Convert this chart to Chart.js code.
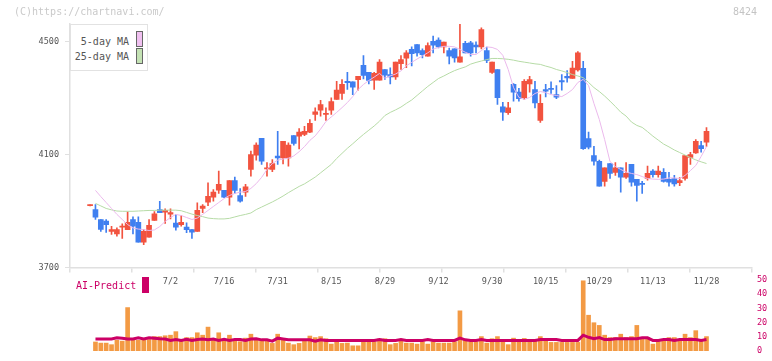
<!DOCTYPE html>
<html>
<head>
<meta charset="utf-8">
<script src="https://cdn.jsdelivr.net/npm/chart.js@4.4.1/dist/chart.umd.min.js"></script>
<style>
  html, body { margin: 0; padding: 0; background: #fff; }
  #wrap { position: relative; width: 772px; height: 361px; overflow: hidden; font-family: "DejaVu Sans Mono", monospace; }
  canvas { position: absolute; left: 0; }
  #main { top: 0; }
  #sub { top: 270px; }
  .txt { position: absolute; white-space: pre; font-size: 10px; line-height: 12px; }
  .box { position: absolute; box-sizing: border-box; }
</style>
</head>
<body>
<div id="wrap">
  <canvas id="sub" width="772" height="91"></canvas>
  <canvas id="main" width="772" height="300"></canvas>
  <div class="txt" style="left:14px;top:6px;color:#cacaca">(C)https://chartnavi.com/</div>
  <div class="txt" style="right:15px;top:6px;color:#c4c4c4">8424</div>
  <div class="box" style="left:70px;top:24px;width:78px;height:47px;border:1px solid #e2e2e2;background:#fff"></div>
  <div class="txt" style="right:643px;top:36px;color:#555">5-day MA</div>
  <div class="box" style="left:136px;top:31px;width:7px;height:16px;border:1px solid #666;background:#f0c0f0"></div>
  <div class="txt" style="right:643px;top:51px;color:#555">25-day MA</div>
  <div class="box" style="left:136px;top:48px;width:7px;height:16px;border:1px solid #666;background:#c4e2b4"></div>
  <div class="txt" style="left:76px;top:280px;color:#cc0066">AI-Predict</div>
  <div class="box" style="left:142px;top:277px;width:7px;height:16px;background:#cc0066"></div>
</div>
<script>
'use strict'

const dates = [
  '6/11', '6/12', '6/13', '6/16', '6/17', '6/18', '6/19', '6/20', '6/23', '6/24',
  '6/25', '6/26', '6/27', '6/30', '7/1', '7/2', '7/3', '7/4', '7/7', '7/8',
  '7/9', '7/10', '7/11', '7/14', '7/15', '7/16', '7/17', '7/18', '7/22', '7/23',
  '7/24', '7/25', '7/28', '7/29', '7/30', '7/31', '8/1', '8/4', '8/5', '8/6',
  '8/7', '8/8', '8/12', '8/13', '8/14', '8/15', '8/18', '8/19', '8/20', '8/21',
  '8/22', '8/25', '8/26', '8/27', '8/28', '8/29', '9/1', '9/2', '9/3', '9/4',
  '9/5', '9/8', '9/9', '9/10', '9/11', '9/12', '9/16', '9/17', '9/18', '9/19',
  '9/22', '9/24', '9/25', '9/26', '9/29', '9/30', '10/1', '10/2', '10/3', '10/6',
  '10/7', '10/8', '10/9', '10/10', '10/14', '10/15', '10/16', '10/17', '10/20', '10/21',
  '10/22', '10/23', '10/24', '10/27', '10/28', '10/29', '10/30', '10/31', '11/4', '11/5',
  '11/6', '11/7', '11/10', '11/11', '11/12', '11/13', '11/14', '11/17', '11/18', '11/19',
  '11/20', '11/21', '11/25', '11/26', '11/27', '11/28',
]

const shownDates = ['7/2', '7/16', '7/31', '8/15', '8/29', '9/12', '9/30', '10/15', '10/29', '11/13', '11/28']

const opens = [
  3919, 3905, 3870, 3864, 3828, 3819, 3843, 3834, 3870, 3860,
  3790, 3807, 3867, 3905, 3896, 3889, 3857, 3852, 3843, 3834,
  3828, 3909, 3931, 3949, 3974, 3973, 3949, 4008, 3955, 3967,
  4047, 4098, 4157, 4049, 4047, 4094, 4088, 4088, 4167, 4165,
  4171, 4179, 4242, 4257, 4242, 4257, 4295, 4316, 4359, 4357,
  4365, 4416, 4391, 4363, 4363, 4401, 4383, 4375, 4422, 4441,
  4472, 4489, 4468, 4448, 4501, 4505, 4481, 4468, 4474, 4427,
  4494, 4495, 4487, 4481, 4468, 4391, 4401, 4269, 4248, 4348,
  4321, 4301, 4350, 4330, 4221, 4330, 4334, 4312, 4362, 4377,
  4369, 4399, 4405, 4156, 4096, 4076, 4005, 4068, 4037, 4053,
  4020, 4065, 4012, 3997, 4015, 4041, 4029, 4037, 4012, 4015,
  4000, 4015, 4090, 4106, 4132, 4144,
]
const highs = [
  3921, 3923, 3870, 3870, 3846, 3840, 3855, 3897, 3879, 3879,
  3834, 3870, 3898, 3934, 3908, 3908, 3888, 3884, 3858, 3834,
  3929, 3923, 4000, 3976, 4041, 3973, 4008, 4020, 3979, 3994,
  4112, 4141, 4157, 4071, 4082, 4182, 4147, 4141, 4167, 4192,
  4200, 4224, 4265, 4292, 4265, 4301, 4359, 4365, 4391, 4357,
  4377, 4450, 4391, 4391, 4436, 4401, 4407, 4427, 4450, 4468,
  4481, 4489, 4474, 4495, 4519, 4513, 4498, 4477, 4474, 4562,
  4501, 4501, 4499, 4548, 4480, 4427, 4401, 4285, 4285, 4351,
  4334, 4365, 4377, 4359, 4312, 4348, 4357, 4344, 4383, 4397,
  4430, 4464, 4430, 4179, 4129, 4080, 4053, 4068, 4071, 4053,
  4071, 4065, 4012, 4005, 4059, 4047, 4059, 4050, 4037, 4026,
  4018, 4096, 4108, 4153, 4147, 4195,
]
const lows = [
  3918, 3870, 3828, 3824, 3817, 3811, 3803, 3834, 3819, 3790,
  3781, 3807, 3867, 3894, 3856, 3872, 3832, 3846, 3823, 3803,
  3828, 3894, 3919, 3935, 3962, 3947, 3921, 3962, 3931, 3952,
  4023, 4080, 4065, 4023, 4039, 4065, 4067, 4059, 4133, 4120,
  4167, 4177, 4221, 4236, 4221, 4242, 4295, 4295, 4330, 4312,
  4328, 4368, 4350, 4330, 4363, 4366, 4350, 4366, 4401, 4407,
  4414, 4448, 4442, 4448, 4460, 4477, 4460, 4421, 4427, 4427,
  4460, 4448, 4460, 4474, 4425, 4387, 4277, 4221, 4242, 4289,
  4289, 4295, 4321, 4265, 4214, 4304, 4316, 4298, 4328, 4356,
  4369, 4395, 4118, 4120, 4062, 3988, 3988, 4015, 4026, 3967,
  4015, 3988, 3935, 3962, 4009, 4020, 4020, 4002, 3988, 3988,
  3990, 4009, 4065, 4104, 4108, 4129,
]
const closes = [
  3920, 3878, 3835, 3852, 3834, 3834, 3846, 3860, 3846, 3790,
  3828, 3849, 3890, 3894, 3902, 3894, 3843, 3860, 3834, 3825,
  3902, 3917, 3952, 3967, 3994, 3949, 4008, 3973, 3935, 3986,
  4100, 4133, 4076, 4053, 4068, 4088, 4147, 4133, 4139, 4179,
  4182, 4210, 4251, 4277, 4245, 4287, 4328, 4348, 4354, 4338,
  4377, 4380, 4362, 4387, 4427, 4381, 4375, 4427, 4436, 4460,
  4457, 4460, 4453, 4486, 4487, 4481, 4498, 4448, 4442, 4446,
  4460, 4460, 4481, 4542, 4433, 4427, 4301, 4250, 4265, 4321,
  4298, 4359, 4365, 4283, 4281, 4324, 4330, 4303, 4357, 4371,
  4406, 4460, 4121, 4126, 4076, 3988, 4053, 4033, 4053, 4020,
  4033, 4002, 3991, 3994, 4033, 4029, 4041, 4005, 4002, 3996,
  4008, 4096, 4100, 4147, 4121, 4182,
]

const ma5 = [
  null, 3973, 3951, 3930, 3909, 3888, 3870, 3852, 3840, 3836,
  3834, 3831, 3833, 3845, 3863, 3877, 3888, 3884, 3877, 3870,
  3875, 3888, 3902, 3916, 3930, 3944, 3955, 3962, 3967, 3969,
  3980, 3997, 4019, 4047, 4068, 4080, 4084, 4087, 4095, 4110,
  4128, 4150, 4166, 4190, 4217, 4233, 4249, 4266, 4284, 4305,
  4330, 4348, 4362, 4374, 4387, 4370, 4378, 4385, 4396, 4414,
  4426, 4438, 4449, 4460, 4473, 4479, 4483, 4483, 4481, 4472,
  4462, 4454, 4454, 4468, 4481, 4479, 4472, 4451, 4401, 4337,
  4302, 4295, 4302, 4316, 4323, 4319, 4312, 4309, 4305, 4316,
  4330, 4355, 4366, 4344, 4281, 4224, 4153, 4075, 4058, 4047,
  4038, 4033, 4029, 4022, 4015, 4013, 4012, 4013, 4017, 4017,
  4015, 4026, 4043, 4061, 4093, 4128,
]
const ma25 = [
  null, 3927, 3918, 3909, 3904, 3900, 3899, 3899, 3899, 3900,
  3901, 3902, 3902, 3903, 3903, 3903, 3903, 3901, 3895, 3889,
  3884, 3880, 3875, 3873, 3872, 3872, 3874, 3879, 3884, 3888,
  3893, 3905, 3914, 3923, 3932, 3942, 3953, 3965, 3976, 3987,
  3996, 4008, 4020, 4035, 4050, 4065, 4086, 4104, 4122, 4138,
  4155, 4171, 4186, 4201, 4218, 4238, 4249, 4258, 4268, 4281,
  4293, 4309, 4325, 4341, 4355, 4369, 4378, 4388, 4397, 4404,
  4410, 4420, 4426, 4431, 4436, 4440, 4440, 4439, 4437, 4434,
  4430, 4427, 4424, 4421, 4419, 4413, 4408, 4401, 4396, 4390,
  4383, 4378, 4372, 4355, 4337, 4323, 4307, 4289, 4270, 4250,
  4236, 4215, 4203, 4196, 4181, 4165, 4151, 4137, 4127, 4116,
  4107, 4098, 4089, 4081, 4074, 4068,
]

const volumes = [
  null, 6.3, 5.5, 5.5, 4.4, 7.5, 6.9, 30.6, 7.5, 7.5,
  7.5, 8.0, 10.1, 10.1, 10.7, 11.1, 13.6, 8.0, 9.4, 9.4,
  12.8, 11.1, 16.8, 7.4, 12.8, 7.4, 11.1, 7.4, 6.5, 9.0,
  11.8, 8.7, 7.4, 7.4, 5.3, 11.8, 8.0, 5.5, 4.4, 5.3,
  7.4, 10.5, 9.4, 10.1, 8.6, 4.8, 6.5, 5.3, 5.5, 3.6,
  3.6, 6.5, 6.5, 6.5, 8.4, 8.6, 4.4, 5.3, 7.4, 5.5,
  5.5, 4.8, 6.5, 4.8, 6.5, 5.5, 5.5, 5.5, 6.5, 28.3,
  7.4, 6.5, 6.5, 10.1, 5.5, 8.6, 10.1, 6.5, 4.4, 9.0,
  7.4, 8.8, 7.4, 7.4, 10.1, 6.9, 6.0, 6.0, 6.0, 6.0,
  6.0, 6.0, 49.5, 25.2, 19.9, 18.0, 11.1, 9.4, 9.4, 11.8,
  9.4, 10.1, 18.0, 9.4, 9.4, 4.8, 6.9, 6.9, 9.4, 9.4,
  6.9, 11.8, 9.4, 14.3, 6.9, 10.1,
]
const aiPredict = [
  null, 8.4, 8.4, 8.4, 8.4, 9.2, 9.0, 8.4, 8.4, 9.2,
  8.4, 9.2, 9.0, 8.6, 8.4, 7.4, 8.0, 7.4, 8.2, 7.4,
  8.0, 8.4, 7.8, 8.4, 7.4, 8.2, 7.4, 8.0, 8.0, 7.4,
  8.4, 8.6, 7.8, 7.8, 6.9, 9.0, 8.4, 7.8, 7.8, 7.8,
  7.8, 7.8, 6.9, 7.8, 7.4, 7.4, 7.4, 7.4, 7.4, 7.4,
  7.4, 7.4, 7.4, 7.4, 8.0, 7.4, 7.4, 7.4, 8.0, 7.4,
  7.4, 7.4, 7.4, 8.0, 7.4, 7.4, 7.4, 7.4, 7.4, 9.0,
  7.8, 7.4, 7.4, 8.0, 7.4, 7.4, 7.4, 7.4, 7.4, 7.4,
  7.4, 7.4, 7.4, 7.4, 8.0, 8.0, 8.0, 8.0, 7.4, 7.4,
  7.4, 7.4, 11.1, 9.6, 8.6, 9.4, 8.0, 8.0, 8.6, 8.6,
  8.6, 8.6, 8.6, 9.2, 9.2, 7.4, 7.4, 8.0, 8.0, 7.4,
  8.0, 8.0, 8.0, 8.0, 7.4, 8.0,
]

const priceTicks = [3700, 4100, 4500]
const volTicks = [0, 10, 20, 30, 40, 50]

const RED = '#f2533f'
const BLUE = '#3f7ff0'
const X_MIN = -3.75
const X_MAX = 123.49
const tickFont = { family: 'DejaVu Sans Mono', size: 8.5 }

const candleColors = dates.map((d, i) => (closes[i] >= opens[i] ? RED : BLUE))
const wickData = dates.map((d, i) => ({ x: i, y: [lows[i], highs[i]] }))
const bodyData = dates.map((d, i) => ({ x: i, y: [opens[i], closes[i]] }))
const linePts = arr => dates.map((d, i) => ({ x: i, y: arr[i] }))

new Chart(document.getElementById('main'), {
  type: 'bar',
  data: {
    datasets: [
      {
        type: 'line',
        data: linePts(ma5),
        borderColor: '#ebb9ec',
        borderWidth: 1,
        pointRadius: 0,
        tension: 0,
        order: 0,
      },
      {
        type: 'line',
        data: linePts(ma25),
        borderColor: '#b6dba6',
        borderWidth: 1,
        pointRadius: 0,
        tension: 0,
        order: 0,
      },
      {
        data: bodyData,
        backgroundColor: candleColors,
        barThickness: 5,
        minBarLength: 1,
        grouped: false,
        order: 1,
      },
      {
        data: wickData,
        backgroundColor: candleColors,
        barThickness: 1,
        minBarLength: 1,
        grouped: false,
        order: 2,
      },
    ],
  },
  options: {
    responsive: false,
    animation: false,
    devicePixelRatio: 1,
    layout: { padding: { top: 24, right: 20, bottom: 6.5, left: 0 } },
    plugins: { legend: { display: false }, tooltip: { enabled: false } },
    scales: {
      x: {
        type: 'linear',
        min: X_MIN,
        max: X_MAX,
        offset: false,
        grid: { offset: false, drawOnChartArea: false, drawTicks: true, tickLength: 5, color: '#e0e0e0', lineWidth: 1.5 },
        border: { display: true, color: '#e0e0e0', width: 1.5 },
        ticks: { display: false },
        afterBuildTicks: axis => {
          axis.ticks = Array.from({ length: 12 }, (_, k) => ({ value: X_MIN + (k * (X_MAX - X_MIN)) / 11 }))
        },
        afterFit: axis => { axis.height = 6 },
      },
      x2: {
        type: 'linear',
        position: 'bottom',
        min: X_MIN,
        max: X_MAX,
        offset: false,
        grid: { display: false, drawTicks: false },
        border: { display: false },
        ticks: {
          autoSkip: false,
          maxRotation: 0,
          padding: 3,
          color: '#555',
          font: tickFont,
          callback: v => dates[v],
        },
        afterBuildTicks: axis => {
          axis.ticks = shownDates.map(d => ({ value: dates.indexOf(d) }))
        },
        afterFit: axis => { axis.height = 20 },
      },
      y: {
        position: 'left',
        min: 3700,
        max: 4562,
        grid: { drawOnChartArea: false, drawTicks: true, tickLength: 5, color: '#e0e0e0' },
        border: { display: true, color: '#e0e0e0', width: 1.5 },
        ticks: { padding: 6, color: '#555', font: tickFont, callback: v => String(v) },
        afterBuildTicks: axis => {
          axis.ticks = priceTicks.map(v => ({ value: v }))
        },
        afterFit: axis => { axis.width = 70 },
      },
    },
  },
})

new Chart(document.getElementById('sub'), {
  type: 'bar',
  data: {
    datasets: [
      {
        type: 'line',
        data: linePts(aiPredict),
        borderColor: '#cc0066',
        borderWidth: 3,
        pointRadius: 0,
        tension: 0,
        order: 0,
      },
      {
        data: dates.map((d, i) => ({ x: i, y: volumes[i] })),
        backgroundColor: '#f39a44',
        barThickness: 4,
        grouped: false,
        order: 1,
      },
    ],
  },
  options: {
    responsive: false,
    animation: false,
    devicePixelRatio: 1,
    layout: { padding: { top: 8.3, right: 0, bottom: 3.3, left: 70 } },
    plugins: { legend: { display: false }, tooltip: { enabled: false } },
    scales: {
      x: { type: 'linear', min: X_MIN, max: X_MAX, offset: false, display: false },
      y: {
        position: 'right',
        min: 0,
        max: 50,
        grid: { display: false, drawTicks: false },
        border: { display: false },
        ticks: { padding: 5, color: '#cc0066', font: tickFont, callback: v => String(v) },
        afterBuildTicks: axis => {
          axis.ticks = volTicks.map(v => ({ value: v }))
        },
        afterFit: axis => { axis.width = 20 },
      },
    },
  },
})
</script>
</body>
</html>
